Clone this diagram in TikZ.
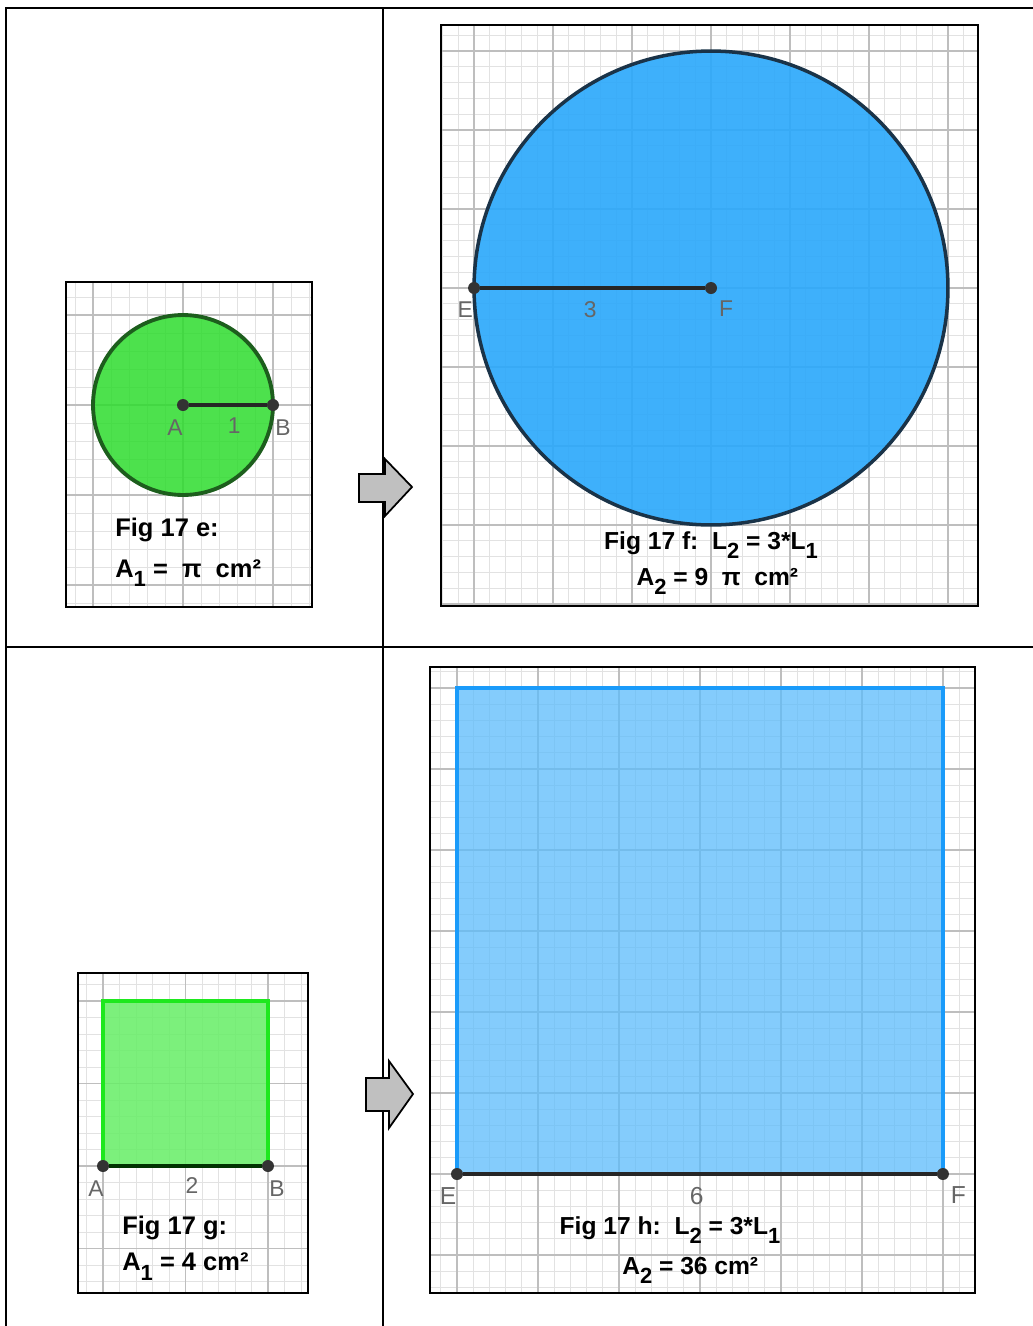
\documentclass[tikz,border=0pt]{standalone}
\usepackage{fontspec}
\setmainfont{Liberation Sans}
\usetikzlibrary{positioning}
\definecolor{gMinor}{HTML}{E2E2E2}
\definecolor{gMajor}{HTML}{BEBEBE}
\definecolor{cGreen}{HTML}{2EDC2E}
\definecolor{cGreenDk}{HTML}{1D5E1D}
\definecolor{cGreenLt}{HTML}{66EE66}
\definecolor{cGreenBd}{HTML}{1EE81E}
\definecolor{cBlue}{HTML}{2AA8FB}
\definecolor{cBlueDk}{HTML}{1A3348}
\definecolor{cBlueLt}{HTML}{5CBCFB}
\definecolor{cBlueBd}{HTML}{1A9BFA}
\definecolor{cArrow}{HTML}{C0C0C0}
\newcommand{\lowi}[1]{\raisebox{-0.7ex}{\fontsize{12.5}{12.5}\selectfont #1}}

\begin{document}
\begin{tikzpicture}[x=0.02cm,y=-0.02cm,
   tline/.style={line width=1.6pt,black},
   minorg/.style={gMinor,line width=0.5pt},
   majorg/.style={gMajor,line width=0.8pt},
   frame/.style={draw=black,line width=1.4pt},
   pt/.style={circle,fill=black!80,inner sep=0pt,minimum size=0.24cm},
   seg/.style={line width=2.2pt,black!85},
   plabel/.style={text=black!60,inner sep=0pt,font=\fontsize{13}{13}\selectfont},
   figcap/.style={inner sep=0pt,font=\bfseries\fontsize{14}{14}\selectfont},
   bigcap/.style={inner sep=0pt,anchor=west,font=\bfseries\fontsize{14.5}{14.5}\selectfont},
   blk/.style={draw=black,fill=cArrow,line width=1pt,line join=miter}]
  \useasboundingbox (0,0) rectangle (1033,1326);
  % table rules
  \draw[tline] (6,1326) -- (6,8) -- (1033,8);
  \draw[tline] (383,8) -- (383,1326);
  \draw[tline] (6,647) -- (1033,647);

  % Fig 17 e
  \begin{scope}[shift={(183,405)},x=1.8cm,y=1.8cm]
    \fill[white] (-1.3,-2.244) rectangle (1.433,1.367);
    \begin{scope}
      \clip (-1.3,-2.244) rectangle (1.433,1.367);
      \draw[minorg,step=0.2] (-1.4,-2.4) grid (1.6,1.4);
      \draw[majorg,step=1] (-2,-3) grid (2,2);
    \end{scope}
    \draw[fill=cGreen,fill opacity=0.85,draw=cGreenDk,line width=2.2pt] (0,0) circle (1);
    \node[pt] (A1) at (0,0) {};
    \node[pt] (B1) at (1,0) {};
    \draw[seg] (A1) -- (B1);
    \node[plabel] (lA1) at (-0.09,-0.25) {A};
    \node[plabel] (lr1) at (0.57,-0.23) {1};
    \node[plabel] (lB1) at (1.11,-0.25) {B};
    \node[bigcap] (capE1) at (-0.756,-1.389) {Fig 17 e:};
    \node[bigcap] (capE2) at (-0.756,-1.867) {A\lowi{1} =\ \ π\ \ cm²};
    \draw[frame] (-1.3,-2.244) rectangle (1.433,1.367);
  \end{scope}

  % Fig 17 f
  \begin{scope}[shift={(711,288)},x=1.58cm,y=1.58cm]
    \fill[white] (-3.418,-4.025) rectangle (3.38,3.329);
    \begin{scope}
      \clip (-3.418,-4.025) rectangle (3.38,3.329);
      \draw[minorg,step=0.2] (-3.6,-4.2) grid (3.6,3.6);
      \draw[majorg,step=1] (-4,-5) grid (4,4);
    \end{scope}
    \draw[fill=cBlue,fill opacity=0.9,draw=cBlueDk,line width=2pt] (0,0) circle (3);
    \node[pt] (E1) at (-3,0) {};
    \node[pt] (F1) at (0,0) {};
    \draw[seg] (E1) -- (F1);
    \node[plabel] (lE1) at (-3.11,-0.28) {E};
    \node[plabel] (lr3) at (-1.53,-0.28) {3};
    \node[plabel] (lF1) at (0.19,-0.26) {F};
    \node[figcap] (capF1) at (0,-3.25) {Fig 17 f:\ \ L\lowi{2} = 3*L\lowi{1}};
    \node[figcap] (capF2) at (0.08,-3.71) {A\lowi{2} = 9\ \ π\ \ cm²};
    \draw[frame] (-3.418,-4.025) rectangle (3.38,3.329);
  \end{scope}

  % Fig 17 g
  \begin{scope}[shift={(103,1166)},x=1.65cm,y=1.65cm]
    \fill[white] (-0.303,-1.539) rectangle (2.485,2.339);
    \begin{scope}
      \clip (-0.303,-1.539) rectangle (2.485,2.339);
      \draw[minorg,step=0.2] (-0.4,-1.6) grid (2.6,2.4);
      \draw[majorg,step=1] (-1,-2) grid (3,3);
    \end{scope}
    \fill[cGreenLt,fill opacity=0.85] (0,0) rectangle (2,2);
    \draw[cGreenBd,line width=2.2pt] (0,0) -- (0,2) -- (2,2) -- (2,0);
    \node[pt] (A2) at (0,0) {};
    \node[pt] (B2) at (2,0) {};
    \draw[seg,draw=black!80!green] (A2) -- (B2);
    \node[plabel] (lA2) at (-0.085,-0.27) {A};
    \node[plabel] (lr2) at (1.08,-0.24) {2};
    \node[plabel] (lB2) at (2.11,-0.27) {B};
    \node[bigcap] (capG1) at (0.23,-0.75) {Fig 17 g:};
    \node[bigcap] (capG2) at (0.23,-1.22) {A\lowi{1} = 4 cm²};
    \draw[frame] (-0.303,-1.539) rectangle (2.485,2.339);
  \end{scope}

  % Fig 17 h
  \begin{scope}[shift={(457,1174)},x=1.62cm,y=1.62cm]
    \fill[white] (-0.333,-1.469) rectangle (6.395,6.259);
    \begin{scope}
      \clip (-0.333,-1.469) rectangle (6.395,6.259);
      \draw[minorg,step=0.2] (-0.4,-1.6) grid (6.6,6.4);
      \draw[majorg,step=1] (-1,-2) grid (7,7);
    \end{scope}
    \fill[cBlueLt,fill opacity=0.75] (0,0) rectangle (6,6);
    \draw[cBlueBd,line width=2.2pt] (0,0) -- (0,6) -- (6,6) -- (6,0);
    \node[pt] (E2) at (0,0) {};
    \node[pt] (F2) at (6,0) {};
    \draw[seg] (E2) -- (F2);
    \node[plabel,font=\fontsize{14}{14}\selectfont] (lE2) at (-0.11,-0.27) {E};
    \node[plabel,font=\fontsize{14}{14}\selectfont] (lr6) at (2.96,-0.27) {6};
    \node[plabel,font=\fontsize{14}{14}\selectfont] (lF2) at (6.19,-0.26) {F};
    \node[figcap] (capH1) at (2.63,-0.69) {Fig 17 h:\ \ L\lowi{2} = 3*L\lowi{1}};
    \node[figcap] (capH2) at (2.88,-1.19) {A\lowi{2} = 36 cm²};
    \draw[frame] (-0.333,-1.469) rectangle (6.395,6.259);
  \end{scope}

  % block arrows
  \draw[blk] (359,474) -- (385,474) -- (385,459) -- (412,487) -- (385,516)
     -- (385,502) -- (359,502) -- cycle;
  \draw[blk] (366,1078) -- (389,1078) -- (389,1061) -- (413,1094) -- (389,1128)
     -- (389,1111) -- (366,1111) -- cycle;
\end{tikzpicture}
\end{document}
